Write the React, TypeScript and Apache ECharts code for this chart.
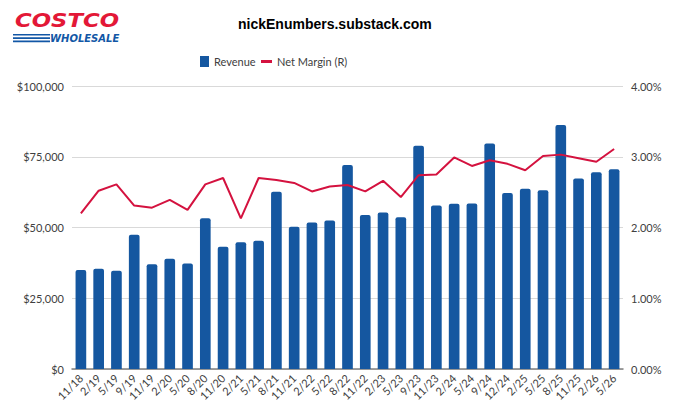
import React, { useEffect, useRef } from "react";
import * as echarts from "echarts";

const categories = [
  "11/18", "2/19", "5/19", "9/19", "11/19", "2/20", "5/20", "8/20", "11/20", "2/21",
  "5/21", "8/21", "11/21", "2/22", "5/22", "8/22", "11/22", "2/23", "5/23", "9/23",
  "11/23", "2/24", "5/24", "9/24", "12/24", "2/25", "5/25", "8/25", "11/25", "2/26", "5/26",
];

const revenue = [
  35000, 35400, 34700, 47400, 37000, 39000, 37300, 53300, 43200, 44800,
  45300, 62600, 50300, 51800, 52500, 72100, 54400, 55300, 53600, 78900,
  57800, 58400, 58500, 79700, 62200, 63700, 63200, 86200, 67300, 69500, 70600,
];

const netMargin = [
  2.2, 2.52, 2.61, 2.31, 2.28, 2.39, 2.25, 2.61, 2.7, 2.13,
  2.7, 2.67, 2.63, 2.51, 2.58, 2.6, 2.51, 2.66, 2.43, 2.74,
  2.75, 2.99, 2.87, 2.95, 2.9, 2.81, 3.01, 3.03, 2.98, 2.93, 3.11,
];

const leftTicks = { min: 0, max: 100000, interval: 25000 };
const rightTicks = { min: 0, max: 4, interval: 1 };

const labelFont = "Lato, 'Open Sans', sans-serif";

export default function App() {
  const ref = useRef<HTMLDivElement>(null);
  useEffect(() => {
    if (!ref.current) return;
    const chart = echarts.init(ref.current, null, { renderer: "svg" });
    chart.setOption({
      animation: false,
      backgroundColor: "#ffffff",
      title: {
        text: "nickEnumbers.substack.com",
        left: 233,
        top: 12,
        textStyle: {
          fontFamily: "'Liberation Sans', Arial, sans-serif",
          fontSize: 14,
          fontWeight: "bold",
          color: "#000000",
        },
      },
      legend: [
        {
          data: [{ name: "Revenue", icon: "rect" }],
          left: 195,
          top: 51,
          itemWidth: 9,
          itemHeight: 11,
          itemGap: 6,
          textStyle: { fontFamily: labelFont, fontSize: 11, color: "#404040" },
        },
        {
          data: [{ name: "Net Margin (R)", icon: "rect" }],
          left: 256,
          top: 51,
          itemWidth: 11,
          itemHeight: 3,
          textStyle: { fontFamily: labelFont, fontSize: 11, color: "#404040" },
        },
      ],
      graphic: [
        {
          type: "text",
          x: 15,
          y: 10,
          scaleX: 1.14,
          style: {
            text: "COSTCO",
            fill: "#e31837",
            font: "italic bold 20px 'DejaVu Sans', sans-serif",
            lineHeight: 20,
          },
        },
        {
          type: "text",
          x: 50,
          y: 33,
          style: {
            text: "WHOLESALE",
            fill: "#1257a6",
            font: "italic bold 10px 'DejaVu Sans', sans-serif",
            lineHeight: 10,
          },
        },
        { type: "rect", shape: { x: 13, y: 34, width: 37, height: 1.6 }, style: { fill: "#1257a6" } },
        { type: "rect", shape: { x: 13, y: 37.3, width: 37, height: 1.6 }, style: { fill: "#1257a6" } },
        { type: "rect", shape: { x: 13, y: 40.6, width: 37, height: 1.6 }, style: { fill: "#1257a6" } },
      ],
      grid: { left: 72, right: 57, top: 86, bottom: 51, containLabel: false },
      xAxis: {
        type: "category",
        data: categories,
        axisTick: { show: false },
        axisLine: { lineStyle: { color: "#808080", width: 1.5 } },
        axisLabel: {
          rotate: 45,
          interval: 0,
          fontFamily: labelFont,
          fontSize: 11,
          color: "#404040",
          margin: 7,
        },
      },
      yAxis: [
        {
          type: "value",
          ...leftTicks,
          splitLine: { lineStyle: { color: "#d9d9d9", width: 1 } },
          axisLine: { show: false },
          axisTick: { show: false },
          axisLabel: {
            fontFamily: labelFont,
            fontSize: 11,
            color: "#404040",
            margin: 8,
            formatter: (v: number) => "$" + v.toLocaleString("en-US"),
          },
        },
        {
          type: "value",
          ...rightTicks,
          splitLine: { show: false },
          axisLine: { show: false },
          axisTick: { show: false },
          axisLabel: {
            fontFamily: labelFont,
            fontSize: 11,
            color: "#404040",
            margin: 8,
            formatter: (v: number) => v.toFixed(2) + "%",
          },
        },
      ],
      series: [
        {
          name: "Revenue",
          type: "bar",
          data: revenue,
          barWidth: "60%",
          itemStyle: { color: "#1557a0", borderRadius: [2, 2, 0, 0] },
        },
        {
          name: "Net Margin (R)",
          type: "line",
          yAxisIndex: 1,
          data: netMargin,
          symbol: "none",
          lineStyle: { color: "#d4123f", width: 2 },
          itemStyle: { color: "#d4123f" },
        },
      ],
    });
    return () => chart.dispose();
  }, []);
  return (
    <div
      ref={ref}
      style={{ position: "fixed", left: 0, top: 0, width: 680, height: 420, background: "#fff" }}
    />
  );
}
